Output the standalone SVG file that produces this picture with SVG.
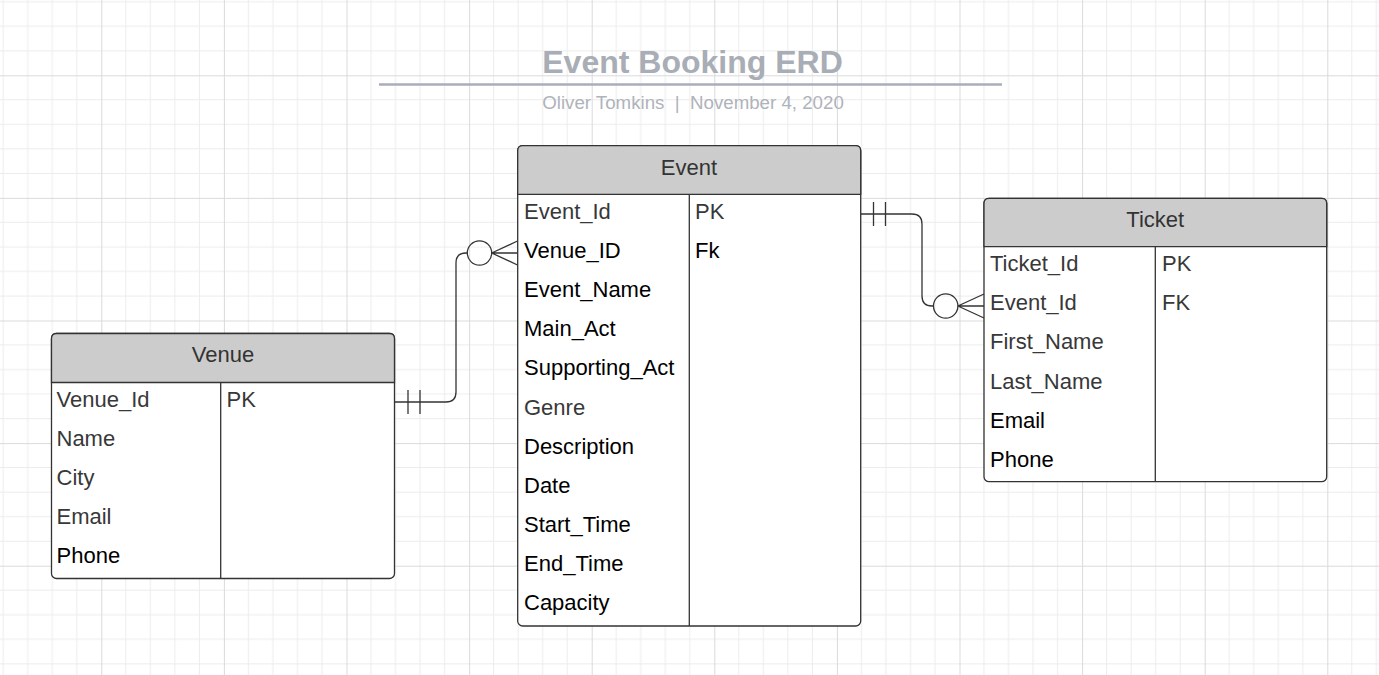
<svg xmlns="http://www.w3.org/2000/svg" width="1379" height="675" viewBox="0 0 1379 675">
<defs>
<pattern id="grid" patternUnits="userSpaceOnUse" x="101.3" y="75.3" width="122.6" height="122.6">
<g stroke="#ececec" stroke-width="1">
<line x1="24.52" y1="0" x2="24.52" y2="122.6"/><line x1="49.04" y1="0" x2="49.04" y2="122.6"/><line x1="73.56" y1="0" x2="73.56" y2="122.6"/><line x1="98.08" y1="0" x2="98.08" y2="122.6"/>
<line y1="24.52" x1="0" y2="24.52" x2="122.6"/><line y1="49.04" x1="0" y2="49.04" x2="122.6"/><line y1="73.56" x1="0" y2="73.56" x2="122.6"/><line y1="98.08" x1="0" y2="98.08" x2="122.6"/>
</g>
<g stroke="#dadada" stroke-width="1"><line x1="0.5" y1="0" x2="0.5" y2="122.6"/><line x1="0" y1="0.5" x2="122.6" y2="0.5"/></g>
</pattern>
<style>
.t{font-family:"Liberation Sans",Arial,sans-serif;font-size:22px}
.g{fill:#383838}
.k{fill:#000000}
.h{fill:#333333;text-anchor:middle}
.box{fill:#ffffff;stroke:#333333;stroke-width:1.3}
.hd{fill:#cccccc;stroke:#333333;stroke-width:1.3}
.ln{stroke:#333333;stroke-width:1.3;fill:none}
</style>
</defs>
<rect width="1379" height="675" fill="#ffffff"/>
<rect width="1379" height="675" fill="url(#grid)"/>

<g id="title">
<text x="692.5" y="73" text-anchor="middle" style="font-family:'Liberation Sans',Arial,sans-serif;font-size:32px;font-weight:bold" fill="#a8adb6">Event Booking ERD</text>
<line x1="379" y1="84.5" x2="1002" y2="84.5" stroke="#a9aeb8" stroke-width="2.5"/>
<text x="693" y="109" text-anchor="middle" style="font-family:'Liberation Sans',Arial,sans-serif;font-size:18.7px" fill="#afb3ba">Oliver Tomkins &#160;| &#160;November 4, 2020</text>
</g>

<g id="connectors">
<path class="ln" d="M395,402 H446 Q456,402 456,392 V263 Q456,253 466,253 H467.5"/>
<line class="ln" x1="408" y1="390" x2="408" y2="414"/>
<line class="ln" x1="420" y1="390" x2="420" y2="414"/>
<circle class="ln" cx="479.5" cy="253" r="12.2" fill="#ffffff"/>
<path class="ln" d="M491.7,253 L517.5,241 M491.7,253 H517.5 M491.7,253 L517.5,265"/>

<path class="ln" d="M861,214 H912 Q922,214 922,224 V296 Q922,306 932,306 H933.5"/>
<line class="ln" x1="873.5" y1="202" x2="873.5" y2="226"/>
<line class="ln" x1="885.5" y1="202" x2="885.5" y2="226"/>
<circle class="ln" cx="945.7" cy="306" r="12.2" fill="#ffffff"/>
<path class="ln" d="M957.9,306 L984,294 M957.9,306 H984 M957.9,306 L984,318"/>
</g>

<g id="venue">
<rect class="box" x="51.5" y="333.5" width="343" height="245" rx="5"/>
<path class="hd" d="M51.5,382.5 V338.5 Q51.5,333.5 56.5,333.5 H389.5 Q394.5,333.5 394.5,338.5 V382.5 Z"/>
<line class="ln" x1="220.7" y1="382.5" x2="220.7" y2="578.5"/>
<text class="t h" x="223" y="362.3">Venue</text>
<text class="t g" x="56.5" y="406.7">Venue_Id</text>
<text class="t g" x="226.5" y="406.7">PK</text>
<text class="t g" x="56.5" y="445.9">Name</text>
<text class="t g" x="56.5" y="485">City</text>
<text class="t g" x="56.5" y="524.2">Email</text>
<text class="t k" x="56.5" y="563.3">Phone</text>
</g>

<g id="event">
<rect class="box" x="517.7" y="145.7" width="343" height="480.3" rx="5"/>
<path class="hd" d="M517.7,194.3 V150.7 Q517.7,145.7 522.7,145.7 H855.7 Q860.7,145.7 860.7,150.7 V194.3 Z"/>
<line class="ln" x1="689.3" y1="194.3" x2="689.3" y2="626"/>
<text class="t h" x="689" y="175">Event</text>
<text class="t g" x="524" y="219">Event_Id</text>
<text class="t g" x="695" y="219">PK</text>
<text class="t k" x="524" y="258.1">Venue_ID</text>
<text class="t k" x="695" y="258.1">Fk</text>
<text class="t k" x="524" y="297.2">Event_Name</text>
<text class="t k" x="524" y="336.3">Main_Act</text>
<text class="t k" x="524" y="375.4">Supporting_Act</text>
<text class="t g" x="524" y="414.5">Genre</text>
<text class="t k" x="524" y="453.6">Description</text>
<text class="t k" x="524" y="492.7">Date</text>
<text class="t k" x="524" y="531.8">Start_Time</text>
<text class="t k" x="524" y="570.9">End_Time</text>
<text class="t k" x="524" y="610">Capacity</text>
</g>

<g id="ticket">
<rect class="box" x="984" y="198.3" width="342.7" height="283.4" rx="5"/>
<path class="hd" d="M984,246.7 V203.3 Q984,198.3 989,198.3 H1321.7 Q1326.7,198.3 1326.7,203.3 V246.7 Z"/>
<line class="ln" x1="1155.3" y1="246.7" x2="1155.3" y2="481.7"/>
<text class="t h" x="1155.3" y="226.7">Ticket</text>
<text class="t g" x="990" y="271">Ticket_Id</text>
<text class="t g" x="1162" y="271">PK</text>
<text class="t g" x="990" y="310.2">Event_Id</text>
<text class="t g" x="1162" y="310.2">FK</text>
<text class="t g" x="990" y="349.4">First_Name</text>
<text class="t g" x="990" y="388.6">Last_Name</text>
<text class="t k" x="990" y="427.6">Email</text>
<text class="t k" x="990" y="466.5">Phone</text>
</g>
</svg>
